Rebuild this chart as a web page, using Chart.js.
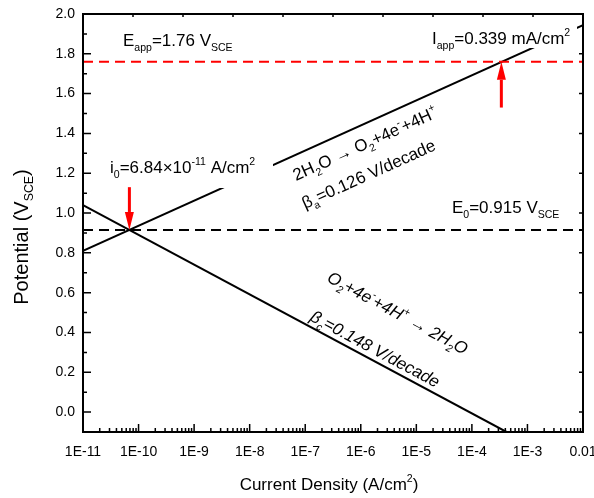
<!DOCTYPE html>
<html>
<head>
<meta charset="utf-8">
<script src="https://cdn.jsdelivr.net/npm/chart.js@4/dist/chart.umd.min.js"></script>
<style>
  body { margin: 0; background: #fff; }
  #wrap { width: 594px; height: 498px; }
</style>
</head>
<body>
<div id="wrap"><canvas id="tafel"></canvas></div>
<script>
// axis ranges
const xRange = [1e-11, 0.01];
const yRange = [-0.1, 2.0];

// Tafel lines (current density A/cm2, potential V vs SCE)
const anodicI = [1e-11, 0.01];
const anodicE = [0.81, 1.944];
const cathodicI = [1e-11, 4.2e-4];
const cathodicE = [1.04, -0.1];

// reference potentials and currents
const E0 = 0.915;
const Eapp = 1.76;
const i0 = 6.84e-11;
const Iapp = 3.39e-4;

// red arrows: [current, start potential, end potential]
const arrowI = [i0, Iapp];
const arrowFrom = [1.13, 1.53];
const arrowTo = [E0, Eapp];

// ticks
const yTicks = [0.0, 0.2, 0.4, 0.6, 0.8, 1.0, 1.2, 1.4, 1.6, 1.8, 2.0];
const xDecades = [1e-11, 1e-10, 1e-9, 1e-8, 1e-7, 1e-6, 1e-5, 1e-4, 1e-3, 1e-2];
const xTickLabels = ['1E-11', '1E-10', '1E-9', '1E-8', '1E-7', '1E-6', '1E-5', '1E-4', '1E-3', '0.01'];

const FONT = 'Arial, "Liberation Sans", sans-serif';

function pts(xs, ys) {
  return xs.map((v, k) => ({ x: v, y: ys[k] }));
}

function fontFor(size, style) {
  return (style || '') + ' ' + size + 'px ' + FONT;
}

// text with sub/superscript pieces: [[text, 'sub'|'sup'|undefined], ...]
function richWidth(ctx, parts, size, style) {
  let w = 0;
  parts.forEach(([t, m]) => {
    ctx.font = fontFor(m ? size * 0.62 : size, style);
    w += ctx.measureText(t).width;
  });
  return w;
}

function drawRich(ctx, parts, x, y, size, style) {
  parts.forEach(([t, m]) => {
    ctx.font = fontFor(m ? size * 0.62 : size, style);
    const dy = m === 'sub' ? size * 0.27 : m === 'sup' ? -size * 0.45 : 0;
    ctx.fillText(t, x, y + dy);
    x += ctx.measureText(t).width;
  });
}

function arrow(ctx, x, y1, y2) {
  const dir = y2 > y1 ? 1 : -1;
  const headLen = 18, headW = 4.5;
  ctx.save();
  ctx.strokeStyle = '#ff0000';
  ctx.fillStyle = '#ff0000';
  ctx.lineWidth = 3;
  ctx.beginPath();
  ctx.moveTo(x, y1);
  ctx.lineTo(x, y2 - dir * headLen);
  ctx.stroke();
  ctx.beginPath();
  ctx.moveTo(x, y2);
  ctx.lineTo(x - headW, y2 - dir * headLen);
  ctx.lineTo(x + headW, y2 - dir * headLen);
  ctx.closePath();
  ctx.fill();
  ctx.restore();
}

const labels = [
  { parts: [['E'], ['app', 'sub'], ['=1.76 V'], ['SCE', 'sub']], x: 123, y: 46 },
  { parts: [['I'], ['app', 'sub'], ['=0.339 mA/cm'], ['2', 'sup']], x: 432, y: 44,
    box: [-5, -18, 150, 22] },
  { parts: [['i'], ['0', 'sub'], ['=6.84\u00d710'], ['-11', 'sup'], [' A/cm'], ['2', 'sup']], x: 110, y: 173,
    box: [-5, -23, 168, 38] },
  { parts: [['E'], ['0', 'sub'], ['=0.915 V'], ['SCE', 'sub']], x: 452, y: 213 }
];

// labels written along the Tafel lines
const slopeLabels = [
  { parts: [['2H'], ['2', 'sub'], ['O \u2192 O'], ['2', 'sub'], ['+4e'], ['-', 'sup'], ['+4H'], ['+', 'sup']],
    x: 296, y: 181, line: 'a' },
  { parts: [['\u03b2'], ['a', 'sub'], ['=0.126 V/decade']], x: 305, y: 209, line: 'a' },
  { parts: [['O'], ['2', 'sub'], ['+4e'], ['-', 'sup'], ['+4H'], ['+', 'sup'], [' \u2192 2H'], ['2', 'sub'], ['O']],
    x: 326, y: 281, line: 'c', style: 'italic' },
  { parts: [['\u03b2'], ['c', 'sub'], ['=0.148 V/decade']], x: 309, y: 320, line: 'c', style: 'italic' }
];

const decor = {
  id: 'decor',
  afterDatasetsDraw(chart) {
    const { ctx, chartArea: a, scales: { x, y } } = chart;
    ctx.save();

    // white boxes behind labels, then the labels
    ctx.fillStyle = '#000';
    ctx.textBaseline = 'alphabetic';
    labels.forEach(l => {
      if (l.box) {
        ctx.fillStyle = '#fff';
        ctx.fillRect(l.x + l.box[0], l.y + l.box[1], l.box[2], l.box[3]);
        ctx.fillStyle = '#000';
      }
      drawRich(ctx, l.parts, l.x, l.y, 17);
    });

    const angleOf = (xs, ys) => Math.atan2(
      y.getPixelForValue(ys[1]) - y.getPixelForValue(ys[0]),
      x.getPixelForValue(xs[1]) - x.getPixelForValue(xs[0]));
    const angA = angleOf(anodicI, anodicE);
    const angC = angleOf(cathodicI, cathodicE);
    slopeLabels.forEach(l => {
      ctx.save();
      ctx.translate(l.x, l.y);
      ctx.rotate(l.line === 'a' ? angA : angC);
      drawRich(ctx, l.parts, 0, 0, 17, l.style);
      ctx.restore();
    });

    // red arrows
    arrowI.forEach((v, k) => {
      arrow(ctx, x.getPixelForValue(v), y.getPixelForValue(arrowFrom[k]), y.getPixelForValue(arrowTo[k]));
    });

    // frame
    ctx.strokeStyle = '#000';
    ctx.lineWidth = 2;
    ctx.strokeRect(a.left, a.top, a.right - a.left, a.bottom - a.top);

    ctx.lineWidth = 1.5;
    ctx.beginPath();
    // left: major + minor ticks, right: major ticks
    yTicks.forEach((v, k) => {
      const py = y.getPixelForValue(v);
      ctx.moveTo(a.left, py); ctx.lineTo(a.left + 8, py);
      ctx.moveTo(a.right, py); ctx.lineTo(a.right - 4, py);
      if (k > 0) {
        const pm = y.getPixelForValue((v + yTicks[k - 1]) / 2);
        ctx.moveTo(a.left, pm); ctx.lineTo(a.left + 4, pm);
      }
    });
    // bottom: decades + 2..9 minors
    xDecades.forEach((d, k) => {
      const px = x.getPixelForValue(d);
      ctx.moveTo(px, a.bottom); ctx.lineTo(px, a.bottom - 8);
      if (k < xDecades.length - 1) {
        for (let m = 2; m <= 9; m++) {
          const pm = x.getPixelForValue(d * m);
          ctx.moveTo(pm, a.bottom); ctx.lineTo(pm, a.bottom - 4);
        }
      }
    });
    // top: ten even divisions
    for (let k = 1; k < 10; k++) {
      const px = a.left + (a.right - a.left) * k / 10;
      ctx.moveTo(px, a.top); ctx.lineTo(px, a.top + 3);
    }
    ctx.stroke();

    // axis titles
    ctx.fillStyle = '#000';
    const xt = [['Current Density (A/cm'], ['2', 'sup'], [')']];
    drawRich(ctx, xt, 329 - richWidth(ctx, xt, 17) / 2, 490, 17);
    const yt = [['Potential (V'], ['SCE', 'sub'], [')']];
    ctx.save();
    ctx.translate(28, 237);
    ctx.rotate(-Math.PI / 2);
    drawRich(ctx, yt, -richWidth(ctx, yt, 20) / 2, 0, 20);
    ctx.restore();

    ctx.restore();
  }
};

const lineStyle = { showLine: true, pointRadius: 0, borderWidth: 2, fill: false };

new Chart(document.getElementById('tafel'), {
  type: 'scatter',
  data: {
    datasets: [
      { ...lineStyle, data: pts(xRange, [E0, E0]), borderColor: '#000', borderDash: [10, 6] },
      { ...lineStyle, data: pts(xRange, [Eapp, Eapp]), borderColor: '#ff0000', borderDash: [10, 6] },
      { ...lineStyle, data: pts(anodicI, anodicE), borderColor: '#000' },
      { ...lineStyle, data: pts(cathodicI, cathodicE), borderColor: '#000' }
    ]
  },
  options: {
    responsive: true,
    maintainAspectRatio: false,
    animation: false,
    layout: { padding: { top: 14, right: 11, left: 0, bottom: 0 } },
    plugins: { legend: { display: false }, tooltip: { enabled: false } },
    scales: {
      x: {
        type: 'logarithmic',
        min: xRange[0],
        max: xRange[1],
        grid: { display: false, drawTicks: false },
        border: { display: false },
        afterBuildTicks: s => { s.ticks = xDecades.map(v => ({ value: v })); },
        afterFit: s => { s.height = 66; s.paddingLeft = 0; s.paddingRight = 0; },
        ticks: {
          autoSkip: false, maxRotation: 0, padding: 12, color: '#000',
          font: { family: FONT, size: 14 },
          callback: (v, k) => xTickLabels[k]
        }
      },
      y: {
        min: yRange[0],
        max: yRange[1],
        grid: { display: false, drawTicks: false },
        border: { display: false },
        afterBuildTicks: s => { s.ticks = yTicks.map(v => ({ value: v })); },
        afterFit: s => { s.width = 83; s.paddingTop = 0; s.paddingBottom = 0; },
        ticks: {
          padding: 8, color: '#000',
          font: { family: FONT, size: 14 },
          callback: v => v.toFixed(1)
        }
      }
    }
  },
  plugins: [decor]
});
</script>
</body>
</html>
